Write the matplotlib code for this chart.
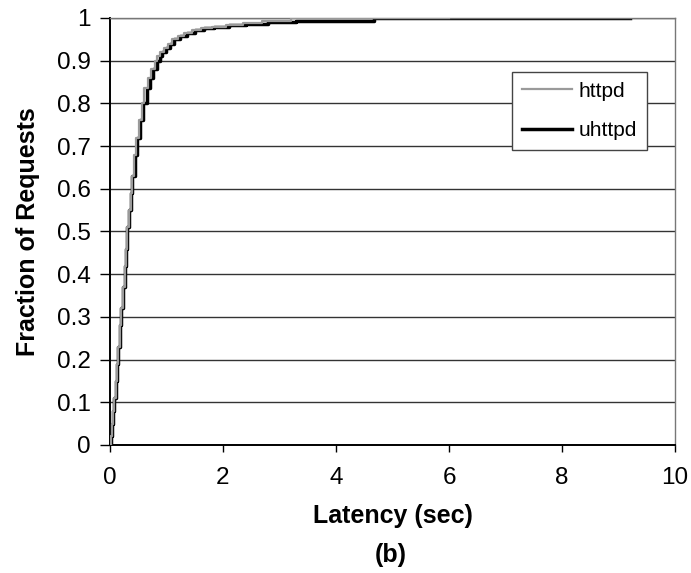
import numpy as np
from matplotlib import pyplot as plt

plt.rcParams["font.family"] = ["Liberation Sans", "DejaVu Sans"]

# CDF of request latency (sec, fraction)
uhttpd_lat = [0.0, 0.02, 0.04, 0.06, 0.08, 0.11, 0.13, 0.15, 0.18, 0.20, 0.23,
              0.26, 0.28, 0.31, 0.34, 0.37, 0.40, 0.44, 0.48, 0.53, 0.59,
              0.65, 0.71, 0.77, 0.83, 0.88, 0.93, 0.99, 1.06, 1.14, 1.24,
              1.36, 1.5, 1.66, 1.85, 2.1, 2.4, 2.8, 3.3, 3.9, 4.68, 9.2]
uhttpd_frac = [0.0, 0.02, 0.05, 0.08, 0.11, 0.15, 0.19, 0.23, 0.28, 0.32, 0.37,
               0.42, 0.46, 0.51, 0.55, 0.59, 0.63, 0.68, 0.72, 0.76, 0.80,
               0.835, 0.86, 0.88, 0.90, 0.91, 0.92, 0.93, 0.94, 0.95, 0.958,
               0.965, 0.971, 0.976, 0.98, 0.984, 0.987, 0.99, 0.992, 0.994,
               1.0, 1.0]

httpd_lat = [0.0, 0.02, 0.04, 0.06, 0.08, 0.11, 0.13, 0.15, 0.18, 0.20, 0.23,
             0.26, 0.28, 0.31, 0.34, 0.37, 0.40, 0.43, 0.47, 0.51, 0.56,
             0.61, 0.67, 0.73, 0.79, 0.84, 0.89, 0.95, 1.02, 1.1, 1.2,
             1.32, 1.46, 1.62, 1.8, 2.05, 2.35, 2.7, 3.2, 6.0]
httpd_frac = [0.0, 0.02, 0.05, 0.08, 0.11, 0.15, 0.19, 0.23, 0.28, 0.32, 0.37,
              0.42, 0.46, 0.51, 0.55, 0.59, 0.63, 0.68, 0.72, 0.76, 0.80,
              0.835, 0.86, 0.88, 0.90, 0.91, 0.92, 0.93, 0.94, 0.95, 0.958,
              0.965, 0.971, 0.976, 0.98, 0.984, 0.988, 0.992, 1.0, 1.0]

fig = plt.figure(figsize=(6.91, 5.73), dpi=100)
ax = fig.add_axes([0.159, 0.2234, 0.818, 0.7452])

ax.plot(httpd_lat, httpd_frac, drawstyle="steps-post", color="#9a9a9a",
        lw=1.6, label="httpd", zorder=3)
ax.plot(uhttpd_lat, uhttpd_frac, drawstyle="steps-post", color="black",
        lw=2.5, label="uhttpd", zorder=2)

ax.set_xlim(0, 10)
ax.set_ylim(0, 1)
ax.set_xticks(np.arange(0, 11, 2))
ax.set_yticks(np.arange(0, 1.01, 0.1))
ax.set_yticklabels(["0", "0.1", "0.2", "0.3", "0.4", "0.5", "0.6", "0.7",
                    "0.8", "0.9", "1"])
ax.yaxis.grid(True, color="#333333", lw=1.0)
ax.set_axisbelow(True)

for s in ["top", "right"]:
    ax.spines[s].set_color("#777777")
    ax.spines[s].set_linewidth(1.0)
for s in ["left", "bottom"]:
    ax.spines[s].set_color("black")
    ax.spines[s].set_linewidth(1.4)

ax.tick_params(axis="both", labelsize=17.5, direction="out", width=1.0)
ax.tick_params(axis="y", length=7, pad=7)
ax.tick_params(axis="x", length=5, pad=11)

ax.set_ylabel("Fraction of Requests", fontsize=18, fontweight="bold", labelpad=12)
ax.set_xlabel("Latency (sec)", fontsize=18, fontweight="bold", labelpad=11)
fig.text(0.565, 0.02, "(b)", fontsize=18, fontweight="bold", ha="center")

leg = ax.legend(loc="upper left", bbox_to_anchor=(0.712, 0.873), borderaxespad=0,
                fontsize=15, frameon=True, fancybox=False, framealpha=1,
                edgecolor="#444444", handlelength=2.4, handletextpad=0.35,
                borderpad=0.45, labelspacing=1.0)
leg.get_frame().set_linewidth(1.0)

fig.savefig("out.png", dpi=100)
